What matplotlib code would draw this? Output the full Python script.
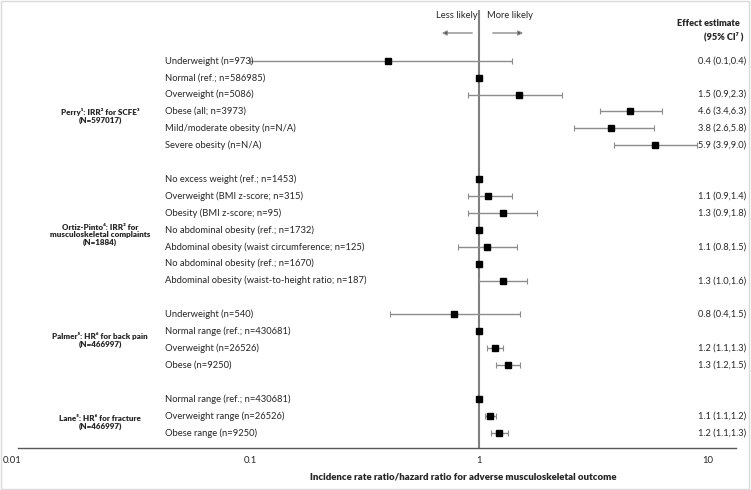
import numpy as np
import matplotlib
matplotlib.use("Agg")
import matplotlib.pyplot as plt
import matplotlib.transforms as mtransforms
from matplotlib.patches import Rectangle

plt.rcParams['font.family'] = ['Lato', 'DejaVu Sans']

# Data
group_labels = [
    "Perry\u00b9: IRR\u00b2 for SCFE\u00b3\n(N=597017)",
    "Ortiz-Pinto\u2074: IRR\u00b2 for\nmusculoskeletal complaints\n(N=1884)",
    "Palmer\u2075: HR\u2076 for back pain\n(N=466997)",
    "Lane\u2075: HR\u2076 for fracture\n(N=466997)",
]
group_sizes = [6, 7, 4, 3]
group_label_shift = [0.75, 0.3, 0.0, 0.4]

row_labels = [
    "Underweight (n=973)", "Normal (ref.; n=586985)", "Overweight (n=5086)",
    "Obese (all; n=3973)", "Mild/moderate obesity (n=N/A)", "Severe obesity (n=N/A)",
    "No excess weight (ref.; n=1453)", "Overweight (BMI z-score; n=315)",
    "Obesity (BMI z-score; n=95)", "No abdominal obesity (ref.; n=1732)",
    "Abdominal obesity (waist circumference; n=125)", "No abdominal obesity (ref.; n=1670)",
    "Abdominal obesity (waist-to-height ratio; n=187)",
    "Underweight (n=540)", "Normal range (ref.; n=430681)", "Overweight (n=26526)",
    "Obese (n=9250)",
    "Normal range (ref.; n=430681)", "Overweight range (n=26526)", "Obese range (n=9250)",
]
estimate = [0.40, 1.0, 1.5, 4.6, 3.8, 5.9,
            1.0, 1.1, 1.28, 1.0, 1.09, 1.0, 1.27,
            0.78, 1.0, 1.18, 1.34,
            1.0, 1.12, 1.23]
ci_low = [0.10, np.nan, 0.9, 3.4, 2.6, 3.9,
          np.nan, 0.9, 0.9, np.nan, 0.81, np.nan, 1.0,
          0.41, np.nan, 1.09, 1.19,
          np.nan, 1.06, 1.13]
ci_high = [1.4, np.nan, 2.3, 6.3, 5.8, 9.0,
           np.nan, 1.4, 1.8, np.nan, 1.47, np.nan, 1.63,
           1.51, np.nan, 1.28, 1.52,
           np.nan, 1.19, 1.34]
effect_text = ["0.4 (0.1,0.4)", "", "1.5 (0.9,2.3)", "4.6 (3.4,6.3)", "3.8 (2.6,5.8)", "5.9 (3.9,9.0)",
               "", "1.1 (0.9,1.4)", "1.3 (0.9,1.8)", "", "1.1 (0.8,1.5)", "", "1.3 (1.0,1.6)",
               "0.8 (0.4,1.5)", "", "1.2 (1.1,1.3)", "1.3 (1.2,1.5)",
               "", "1.1 (1.1,1.2)", "1.2 (1.1,1.3)"]
x_ticks = [0.01, 0.1, 1, 10]
x_ticklabels = ["0.01", "0.1", "1", "10"]

# row positions: one blank row between studies
rows = []
group_centers = []
pos = 0
for n, shift in zip(group_sizes, group_label_shift):
    r = list(range(pos, pos + n))
    rows += r
    group_centers.append(np.mean(r) + shift)
    pos += n + 1
rows = np.array(rows)

est = np.array(estimate)
lo = np.array(ci_low)
hi = np.array(ci_high)

W, H = 751, 490
fig = plt.figure(figsize=(W / 100, H / 100), dpi=100)
ax = fig.add_axes([18 / W, 1 - 448 / H, (736 - 18) / W, (448 - 10) / H])

ax.set_xscale('log')
ax.set_xlim(0.0097, 13.3)
ax.set_ylim(22.9, -3.0)

ax.axvline(1, color='#7f7f7f', lw=1.5, zorder=1)

has_ci = ~np.isnan(lo)
ax.errorbar(est[has_ci], rows[has_ci],
            xerr=[est[has_ci] - lo[has_ci], hi[has_ci] - est[has_ci]],
            fmt='none', ecolor='#8c8c8c', elinewidth=1, capsize=2.2, capthick=0.8, zorder=2)
ax.plot(est, rows, 's', color='black', markersize=4.8, zorder=3)

for s in ['top', 'right', 'left']:
    ax.spines[s].set_visible(False)
ax.spines['bottom'].set_color('#595959')
ax.spines['bottom'].set_linewidth(1)
ax.set_yticks([])
ax.set_xticks(x_ticks)
ax.set_xticklabels(x_ticklabels)
ax.xaxis.set_minor_locator(matplotlib.ticker.NullLocator())
ax.tick_params(axis='x', length=0, pad=6, labelsize=6.8, labelcolor='#262626')
ax.get_xticklabels()[0].set_horizontalalignment('right')

fs = 6.75
trans = mtransforms.blended_transform_factory(fig.transFigure, ax.transData)
for y, lab, txt in zip(rows, row_labels, effect_text):
    ax.text(165 / W, y, lab, transform=trans, ha='left', va='center', fontsize=fs, color='#262626')
    if txt:
        ax.text(746 / W, y, txt, transform=trans, ha='right', va='center', fontsize=6.7, color='#262626')

for yc, lab in zip(group_centers, group_labels):
    ax.text(100 / W, yc, lab, transform=trans, ha='center', va='center', fontsize=5.8,
            fontweight='heavy', color='#262626', linespacing=1.1)

# header
fig.text(740 / W, 1 - 23 / H, "Effect estimate", ha='right', va='center', fontsize=6.6,
         fontweight='heavy', color='#262626')
fig.text(743 / W, 1 - 37 / H, "(95% CI\u2077 )", ha='right', va='center', fontsize=6.6,
         fontweight='heavy', color='#262626')
fig.text(457 / W, 1 - 16 / H, "Less likely", ha='center', va='center', fontsize=fs, color='#262626')
fig.text(510 / W, 1 - 16 / H, "More likely", ha='center', va='center', fontsize=fs, color='#262626')
arrow_kw = dict(arrowstyle='-|>', color='#8c8c8c', fc='black', lw=1, mutation_scale=7)
fig.add_artist(matplotlib.patches.FancyArrowPatch((475 / W, 1 - 33 / H), (439 / W, 1 - 33 / H),
                                                  transform=fig.transFigure, **arrow_kw))
fig.add_artist(matplotlib.patches.FancyArrowPatch((490 / W, 1 - 33 / H), (526 / W, 1 - 33 / H),
                                                  transform=fig.transFigure, **arrow_kw))

fig.text(463 / W, 1 - 477 / H,
         "Incidence rate ratio/hazard ratio for adverse musculoskeletal outcome",
         ha='center', va='center', fontsize=6.9, fontweight='heavy', color='#262626')

fig.add_artist(Rectangle((0.5 / W, 1.5 / H), (W - 3) / W, (H - 3) / H, transform=fig.transFigure,
                         fill=False, edgecolor='#d9d9d9', lw=1))

fig.savefig("out.png", dpi=100)
